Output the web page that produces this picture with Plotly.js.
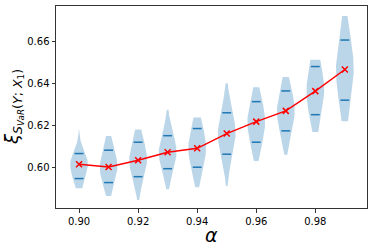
<!DOCTYPE html>
<html><head><meta charset="utf-8">
<script src="https://cdn.plot.ly/plotly-3.0.1.min.js"></script>
<style>html,body{margin:0;padding:0;background:#fff}#chart{width:374px;height:251px}</style>
</head><body><div id="chart"></div>
<script>
// Data
const alphas = [0.90, 0.91, 0.92, 0.93, 0.94, 0.95, 0.96, 0.97, 0.98, 0.99];
const means  = [0.6014, 0.6001, 0.6033, 0.6071, 0.6090, 0.6160, 0.6217, 0.6268, 0.6362, 0.6465];
const vmin   = [0.5900, 0.5863, 0.5844, 0.5895, 0.5905, 0.5911, 0.6030, 0.6059, 0.6167, 0.6219];
const vmax   = [0.6181, 0.6149, 0.6180, 0.6273, 0.6236, 0.6400, 0.6381, 0.6429, 0.6511, 0.6720];
const qlo    = [0.5946, 0.5927, 0.5955, 0.5993, 0.6000, 0.6062, 0.6119, 0.6173, 0.6250, 0.6319];
const qhi    = [0.6065, 0.6081, 0.6119, 0.6150, 0.6184, 0.6259, 0.6312, 0.6363, 0.6479, 0.6605];
const xTicks = [0.90, 0.92, 0.94, 0.96, 0.98];
const yTicks = [0.60, 0.62, 0.64, 0.66];

const violinWidth = 0.006;
const half = violinWidth / 2;

function profile(i, y) {
  const c = means[i];
  let s, e;
  if (y >= c) { s = (qhi[i] - c) / 0.85; e = vmax[i] - c; }
  else { s = (c - qlo[i]) / 0.85; e = c - vmin[i]; }
  const d = Math.abs(y - c);
  const z = d / s, t = Math.min(1, d / e);
  const g = Math.exp(-0.5 * z * z);
  const tail = 0.13 * Math.pow(1 - t, 1.4) + 0.012;
  return Math.max(g, tail);
}

const traces = [];
alphas.forEach((a, i) => {
  const n = 100, ys = [];
  for (let k = 0; k <= n; k++) ys.push(vmin[i] + (vmax[i] - vmin[i]) * k / n);
  const xs = [], yy = [];
  ys.forEach(y => { xs.push(a + half * profile(i, y)); yy.push(y); });
  for (let k = ys.length - 1; k >= 0; k--) { xs.push(a - half * profile(i, ys[k])); yy.push(ys[k]); }
  traces.push({
    type: 'scatter', mode: 'lines', x: xs, y: yy, fill: 'toself',
    fillcolor: 'rgba(31,119,180,0.3)', line: {width: 0, color: 'rgba(31,119,180,0)'},
    hoverinfo: 'skip', showlegend: false
  });
});

// quantile lines
const qx = [], qy = [];
alphas.forEach((a, i) => {
  [qlo[i], qhi[i]].forEach(q => { qx.push(a - half / 2, a + half / 2, null); qy.push(q, q, null); });
});
traces.push({type: 'scatter', mode: 'lines', x: qx, y: qy, line: {color: '#1f77b4', width: 1.5}, showlegend: false, hoverinfo: 'skip'});

// mean line
traces.push({
  type: 'scatter', mode: 'lines+markers', x: alphas, y: means,
  line: {color: '#ff0000', width: 1.5},
  marker: {symbol: 'x-thin', size: 6, line: {color: '#ff0000', width: 1.5}, color: '#ff0000'},
  showlegend: false
});

const tickFont = {family: 'DejaVu Sans', size: 10, color: '#000'};
const layout = {
  width: 374, height: 251,
  margin: {l: 56, r: 7, t: 6, b: 43},
  paper_bgcolor: '#fff', plot_bgcolor: '#fff',
  showlegend: false,
  xaxis: {
    range: [0.8922, 0.9975], tickvals: xTicks, ticktext: xTicks.map(v => v.toFixed(2)),
    showgrid: false, zeroline: false, showline: true, mirror: true, linecolor: '#333', linewidth: 1,
    ticks: 'outside', ticklen: 3.5, tickwidth: 1, tickcolor: '#333', tickfont: tickFont
  },
  yaxis: {
    range: [0.5806, 0.6767], tickvals: yTicks, ticktext: yTicks.map(v => v.toFixed(2)),
    showgrid: false, zeroline: false, showline: true, mirror: true, linecolor: '#333', linewidth: 1,
    ticks: 'outside', ticklen: 3.5, tickwidth: 1, tickcolor: '#333', tickfont: tickFont
  },
  annotations: [
    {text: '<i>α</i>', xref: 'paper', yref: 'paper', x: 0.5, y: 0, xanchor: 'center', yanchor: 'middle',
     yshift: -27, showarrow: false, font: {family: 'DejaVu Sans', size: 19, color: '#000'}},
    {text: '<i>ξ</i><sub><i>S<sub>VaR</sub></i>(<i>Y</i>; <i>X</i><sub>1</sub>)</sub>', xref: 'paper', yref: 'paper', x: 0, y: 0.5,
     xanchor: 'center', yanchor: 'middle', xshift: -43, textangle: -90, showarrow: false,
     font: {family: 'DejaVu Sans', size: 18, color: '#000'}}
  ]
};
Plotly.newPlot('chart', traces, layout, {staticPlot: true, displayModeBar: false});
</script></body></html>
